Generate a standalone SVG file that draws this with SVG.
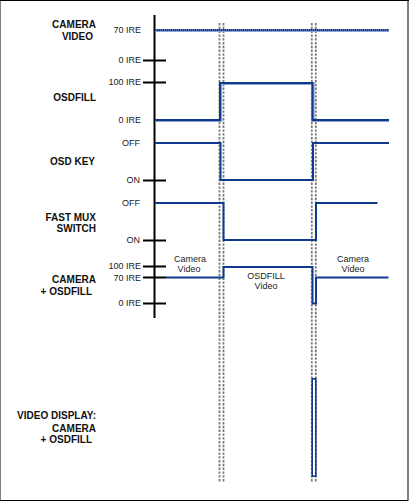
<svg xmlns="http://www.w3.org/2000/svg" width="409" height="501" viewBox="0 0 409 501">
<style>
.lbl{font-family:"Liberation Sans",Arial,sans-serif;font-size:10px;font-weight:bold;fill:#111;text-anchor:end}
.val{font-family:"Liberation Sans",Arial,sans-serif;font-size:9px;fill:#222;text-anchor:end}
.note{font-family:"Liberation Sans",Arial,sans-serif;font-size:9px;fill:#222;text-anchor:middle}
.sig{fill:none;stroke:#113a8e;stroke-width:2;stroke-linejoin:miter}
.glow{fill:none;stroke:#8aa3d4;stroke-width:3.2;stroke-linejoin:miter}
.tick{stroke:#000;stroke-width:2}
.guide{stroke:#7a7a7a;stroke-width:1.8;stroke-dasharray:2.4 1.4}
</style>
<rect x="0" y="0" width="409" height="501" fill="#fff"/>
<g id="frame">
<rect x="0" y="0" width="1" height="501" fill="#808080"/>
<rect x="407" y="0" width="2" height="501" fill="#808080"/>
<rect x="0" y="0" width="409" height="1" fill="#000"/>
<rect x="0" y="500" width="408" height="1" fill="#000"/>
</g>
<g id="guides">
<line class="guide" x1="219.5" y1="23" x2="219.5" y2="482"/>
<line class="guide" x1="223.5" y1="23" x2="223.5" y2="482"/>
<line class="guide" x1="311.8" y1="23" x2="311.8" y2="482"/>
<line class="guide" x1="315.8" y1="23" x2="315.8" y2="482"/>
</g>
<g id="axis">
<line x1="154.5" y1="15" x2="154.5" y2="318" stroke="#000" stroke-width="2"/>
<line class="tick" x1="143" y1="60.5" x2="166" y2="60.5"/>
<line class="tick" x1="143" y1="82.5" x2="166" y2="82.5"/>
<line class="tick" x1="143" y1="180.5" x2="166" y2="180.5"/>
<line class="tick" x1="143" y1="240.5" x2="166" y2="240.5"/>
<line class="tick" x1="143" y1="266.5" x2="166" y2="266.5"/>
<line class="tick" x1="143" y1="277.5" x2="166" y2="277.5"/>
<line class="tick" x1="143" y1="303.5" x2="166" y2="303.5"/>
</g>
<g id="camera-video">
<text class="lbl" x="96" y="28">CAMERA</text>
<text class="lbl" x="93" y="40">VIDEO</text>
<text class="val" x="141" y="33">70 IRE</text>
<text class="val" x="141" y="63">0 IRE</text>
<path class="glow" d="M155,30.5 H389"/>
<path class="sig" d="M155,30 H389" stroke-dasharray="1.5 0.5"/>
</g>
<g id="osdfill">
<text class="lbl" x="96" y="101">OSDFILL</text>
<text class="val" x="141" y="85">100 IRE</text>
<text class="val" x="141" y="123">0 IRE</text>
<path class="glow" d="M155,120.5 H220.5 V83.5 H313 V120.5 H389"/>
<path class="sig" d="M155,120 H220 V83 H312.5 V120 H389"/>
</g>
<g id="osd-key">
<text class="lbl" x="95" y="165">OSD KEY</text>
<text class="val" x="140" y="146">OFF</text>
<text class="val" x="140" y="183">ON</text>
<path class="sig" d="M155,143 H220.5 V180 H313 V143 H389"/>
</g>
<g id="fast-mux">
<text class="lbl" x="96" y="221">FAST MUX</text>
<text class="lbl" x="96" y="232">SWITCH</text>
<text class="val" x="140" y="206">OFF</text>
<text class="val" x="140" y="243">ON</text>
<path class="sig" d="M155,203 H223.5 V240 H316 V203 H377.5"/>
</g>
<g id="camera-osdfill">
<text class="lbl" x="96" y="283">CAMERA</text>
<text class="lbl" x="92" y="295">+ OSDFILL</text>
<text class="val" x="141" y="269">100 IRE</text>
<text class="val" x="141" y="281">70 IRE</text>
<text class="val" x="141" y="306">0 IRE</text>
<path class="sig" d="M166,277.5 H223.5 V267 H312.5 V303.5 H316 V277.5 H388.5"/>
<text class="note" x="190" y="262">Camera</text>
<text class="note" x="189" y="272">Video</text>
<text class="note" x="266" y="279">OSDFILL</text>
<text class="note" x="266" y="289">Video</text>
<text class="note" x="353" y="262">Camera</text>
<text class="note" x="353" y="272">Video</text>
</g>
<g id="video-display">
<text class="lbl" x="96" y="419">VIDEO DISPLAY:</text>
<text class="lbl" x="96" y="432">CAMERA</text>
<text class="lbl" x="92" y="443">+ OSDFILL</text>
<rect x="312.2" y="378.8" width="3.6" height="97.4" fill="none" stroke="#113a8e" stroke-width="1.6"/>
</g>
</svg>
